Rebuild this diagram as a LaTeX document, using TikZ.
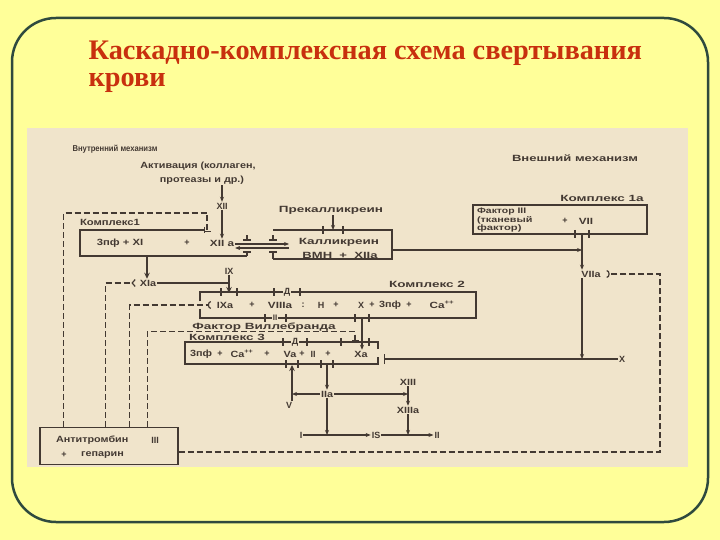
\documentclass[tikz,border=0pt]{standalone}
\usepackage{fontspec}
\setmainfont{Liberation Serif}
\newfontfamily\scanfont{Liberation Sans}
\usetikzlibrary{arrows.meta, positioning}
\definecolor{slideYellow}{HTML}{FFFF99}
\definecolor{slideFrame}{HTML}{2F4A3E}
\definecolor{titleRed}{HTML}{C8300E}
\definecolor{scanPaper}{HTML}{F0E4CB}
\definecolor{scanInk}{HTML}{433932}
\newcommand{\wx}[2]{\scalebox{#1}[1]{#2}}
\tikzset{
  % the picture is laid out in screen pixels, y counted downwards
  every picture/.append style = {line width=1.2pt, >={Stealth[length=5pt,width=4pt]}},
  lbl/.style      = {font=\scanfont\bfseries\fontsize{9}{10}\selectfont, text=scanInk, inner sep=0.5pt},
  slbl/.style     = {lbl, font=\scanfont\bfseries\fontsize{8.5}{9}\selectfont},
  tlbl/.style     = {lbl, font=\scanfont\bfseries\fontsize{8}{8}\selectfont, anchor=west},
  onlinelbl/.style= {lbl, fill=scanPaper, inner sep=0.3pt},
  boxline/.style  = {scanInk, line width=1.2pt},
  act/.style      = {scanInk, line width=1.2pt, ->},
  bigact/.style   = {scanInk, line width=2.2pt, -{Stealth[length=6pt,width=5.5pt]}},
  inhib/.style    = {scanInk, line width=1.4pt, dash pattern=on 6pt off 3pt},
  stopbar/.style  = {-{Bar[width=7pt,line width=1.3pt]}},
  stopfork/.style = {-{Straight Barb[reversed,length=3pt,width=7pt,line width=1.2pt]}},
  stopcup/.style  = {-{Arc Barb[reversed,length=3pt,width=8pt,line width=1.2pt]}},
  titletxt/.style = {font=\bfseries\fontsize{28.3}{30}\selectfont, text=titleRed, inner sep=0pt, anchor=base west},
}
\begin{document}
\begin{tikzpicture}[x=1pt,y=-1pt]
  \useasboundingbox (0,0) rectangle (720,540);
  \fill[slideYellow] (0,0) rectangle (720,540);
  \draw[slideFrame, line width=2.5pt, rounded corners=44pt] (12,18) rectangle (708,522);
  \node[titletxt] (title1) at (88,60) {Каскадно-комплексная схема свертывания};
  \node[titletxt] (title2) at (88,87) {крови};

  % scanned scheme
  \fill[scanPaper] (27,128) rectangle (688,467);
  \node[slbl] (mechIn)  at (115,149) {\wx{0.9}{Внутренний механизм}};
  \node[lbl]  (activ1)  at (198,166) {\wx{1.2}{Активация (коллаген,}};
  \node[lbl]  (activ2)  at (202,180) {\wx{1.2}{протеазы и др.)}};
  \node[lbl]  (f12)     at (222,206) {XII};
  \node[lbl]  (mechOut) at (575,158) {\wx{1.45}{Внешний механизм}};
  \node[lbl]  (prek)    at (331,210) {\wx{1.5}{Прекалликреин}};
  \node[lbl]  (cx1)     at (110,222) {\wx{1.25}{Комплекс1}};
  \node[lbl]  (cx1a)    at (602,198) {\wx{1.5}{Комплекс 1а}};
  \draw[act] (activ2.south -| f12) -- (f12.north);

  % complex 1 and kallikrein
  \node[lbl] (c1left) at (120,243) {\wx{1.25}{3пф + XI}};
  \node[lbl] (c1plus) at (187,243) {+};
  \node[lbl] (f12a)   at (222,243) {\wx{1.3}{XII a}};
  \draw[boxline, {Bar[width=6pt]}-] (205,230) -- (80,230) -- (80,256) -- (247,256);
  \draw[act] (f12.south) -- (f12a.north);
  \node[lbl] (kal1) at (339,242) {\wx{1.5}{Калликреин}};
  \node[lbl] (kal2) at (340,255) {\wx{1.45}{ВМН\ \ +\ \ XIIa}};
  \draw[boxline] (273,230) -- (392,230) -- (392,259) -- (273,259);
  \foreach \x in {323,343} \draw[boxline] (\x,226) -- (\x,234);
  \coordinate (kalTop) at (333,230);
  \draw[act] (prek.south -| kalTop) -- (kalTop);
  \coordinate (kalIn) at (289,244);
  \coordinate (kalOut) at (289,248);
  \draw[act] (f12a.east |- kalIn) -- (kalIn);
  \draw[act] (kalOut) -- (f12a.east |- kalOut);
  \foreach \x/\yb in {247/256,273/259}{
    \draw[boxline] (\x,235) -- (\x,240) (\x-4,240) -- (\x+4,240);
    \draw[boxline] (\x-4,252) -- (\x+4,252) (\x,252) -- (\x,\yb);
  }

  % tissue factor and VIIa
  \draw[boxline] (473,205) rectangle (647,234);
  \node[tlbl] (tf1) at (476,212) {\wx{1.3}{Фактор III}};
  \node[tlbl] (tf2) at (476,220) {\wx{1.35}{(тканевый}};
  \node[tlbl] (tf3) at (476,228) {\wx{1.4}{фактор)}};
  \node[lbl] (tfplus) at (565,221) {+};
  \node[lbl] (f7) at (586,221) {\wx{1.3}{VII}};
  \foreach \x in {575,589} \draw[boxline] (\x,230) -- (\x,238);
  \coordinate (v7top) at (582,234);
  \node[lbl] (f7a) at (591,274) {\wx{1.2}{VIIa}};
  \draw[act, line width=1.6pt] (v7top) -- (v7top |- f7a.north);
  \coordinate (kalRight) at (392,250);
  \draw[act] (kalRight) -- (kalRight -| v7top);
  \node[lbl] (fX) at (622,359) {X};
  \draw[act, line width=1.4pt] (f7a.south -| v7top) -- (v7top |- fX.center);
  \coordinate (xaStop) at (384,359);
  \draw[boxline, -{Bar[width=10pt,line width=1.3pt]}] (fX.west) -- (xaStop);

  % XIa and complex 2
  \node[lbl] (f11a) at (148,283) {\wx{1.2}{XIa}};
  \node[lbl] (f9)   at (229,271) {IX};
  \coordinate (c1out) at (147,256);
  \draw[bigact] (c1out) -- (c1out |- f11a.north);
  \coordinate (c2in) at (229,293);
  \draw[bigact] (f9.south) -- (c2in);
  \draw[boxline] (f11a.east) -- (f11a.east -| f9.south);
  \draw[boxline] (200,301) -- (200,292) -- (476,292) -- (476,318) -- (200,318) -- (200,309);
  \foreach \x in {221,237,274,300} \draw[boxline] (\x,288) -- (\x,296);
  \node[onlinelbl] (d2) at (287,292) {Д};
  \node[lbl] (cx2) at (427,284) {\wx{1.5}{Комплекс 2}};
  \node[lbl] (f9a)  at (225,305) {\wx{1.2}{IXa}};
  \node[lbl] (c2p1) at (252,305) {+};
  \node[lbl] (f8a)  at (280,305) {\wx{1.3}{VIIIa}};
  \node[lbl] (c2co) at (303,305) {:};
  \node[lbl] (c2h)  at (321,305) {H};
  \node[lbl] (c2p2) at (336,305) {+};
  \node[lbl] (f10)  at (361,305) {X};
  \node[lbl] (c2p3) at (372,305) {+};
  \node[lbl] (c2pf) at (390,305) {\wx{1.2}{3пф}};
  \node[lbl] (c2p4) at (409,305) {+};
  \node[lbl] (c2ca) at (442,305) {\wx{1.3}{Ca\textsuperscript{++}}};
  \foreach \x in {265,286,355,369} \draw[boxline] (\x,314) -- (\x,322);
  \node[onlinelbl, font=\scanfont\bfseries\fontsize{8}{8}\selectfont] (ii2) at (275,317.5) {II};
  \node[lbl, inner sep=0pt] (vwf) at (264,327) {\wx{1.5}{Фактор Виллебранда}};

  % complex 3
  \node[lbl] (cx3) at (227,337) {\wx{1.5}{Комплекс 3}};
  \draw[boxline] (378,349) -- (378,342) -- (185,342) -- (185,364) -- (378,364) -- (378,357);
  \foreach \x in {283,307,341,369} \draw[boxline] (\x,338) -- (\x,346);
  \node[onlinelbl] (d3) at (295,342) {Д};
  \foreach \x in {286,298,321,333} \draw[boxline] (\x,360) -- (\x,368);
  \node[lbl] (c3pf) at (201,354) {\wx{1.2}{3пф}};
  \node[lbl] (c3p1) at (220,354) {+};
  \node[lbl] (c3ca) at (242,354) {\wx{1.2}{Ca\textsuperscript{++}}};
  \node[lbl] (c3p2) at (267,354) {+};
  \node[lbl] (f5a)  at (290,354) {\wx{1.2}{Va}};
  \node[lbl] (c3p3) at (302,354) {+};
  \node[lbl] (c3ii) at (313,354) {II};
  \node[lbl] (c3p4) at (328,354) {+};
  \node[lbl] (f10a) at (361,354) {\wx{1.2}{Xa}};
  \coordinate (c2out) at (362,318);
  \draw[act] (c2out) -- (c2out |- f10a.north);

  % thrombin and fibrin
  \node[lbl] (f5)   at (289,405) {V};
  \node[lbl] (f2a)  at (327,394) {\wx{1.2}{IIa}};
  \node[lbl] (f13)  at (408,382) {\wx{1.2}{XIII}};
  \node[lbl] (f13a) at (408,410) {\wx{1.2}{XIIIa}};
  \node[lbl] (f1)   at (301,435) {I};
  \node[lbl] (fis)  at (376,435) {IS};
  \node[lbl] (f1b)  at (437,435) {II};
  \coordinate (c3v) at (292,365);
  \draw[bigact] (c3v |- f5.north) -- (c3v);
  \draw[act] (f2a.west) -- (f2a.west -| c3v);
  \coordinate (c3iia) at (327,364);
  \draw[act] (c3iia) -- (c3iia |- f2a.north);
  \draw[act] (f2a.east) -- (f2a.east -| f13.south);
  \draw[act] (f13.south) -- (f13a.north);
  \draw[act] (f2a.south) -- (f2a.south |- f1.center);
  \draw[act] (f1.east) -- (fis.west);
  \draw[act] (fis.east) -- (f1b.west);
  \draw[act] (f13a.south) -- (f13a.south |- fis.center);

  % antithrombin III and its dashed inhibitor lines
  \node[draw=scanInk, line width=1.2pt, minimum width=138pt, minimum height=37pt, inner sep=0pt] (at3) at (109,446) {};
  \node[lbl, anchor=west] (at3a) at (55,440) {\wx{1.2}{Антитромбин}};
  \node[lbl] (at3b) at (155,440) {III};
  \node[lbl] (at3c) at (64,455) {+};
  \node[lbl, anchor=west] (at3d) at (80,455) {\wx{1.2}{гепарин}};
  \coordinate (in12) at (207,232);
  \coordinate (in10) at (355,341);
  \draw[inhib, stopbar] ([xshift=24pt]at3.north west) |- (207,213) -- (in12);
  \draw[inhib, stopfork] ([xshift=66pt]at3.north west) |- ([xshift=-3pt]f11a.west);
  \draw[inhib, stopcup] ([xshift=90pt]at3.north west) |- ([xshift=-5pt]f9a.west);
  \draw[inhib, stopbar] ([xshift=108pt]at3.north west) |- (355,331.5) -- (in10);
  \draw[inhib, stopcup] ([yshift=-6pt]at3.east) -| (660,274) -- ([xshift=5pt]f7a.east);
\end{tikzpicture}
\end{document}
